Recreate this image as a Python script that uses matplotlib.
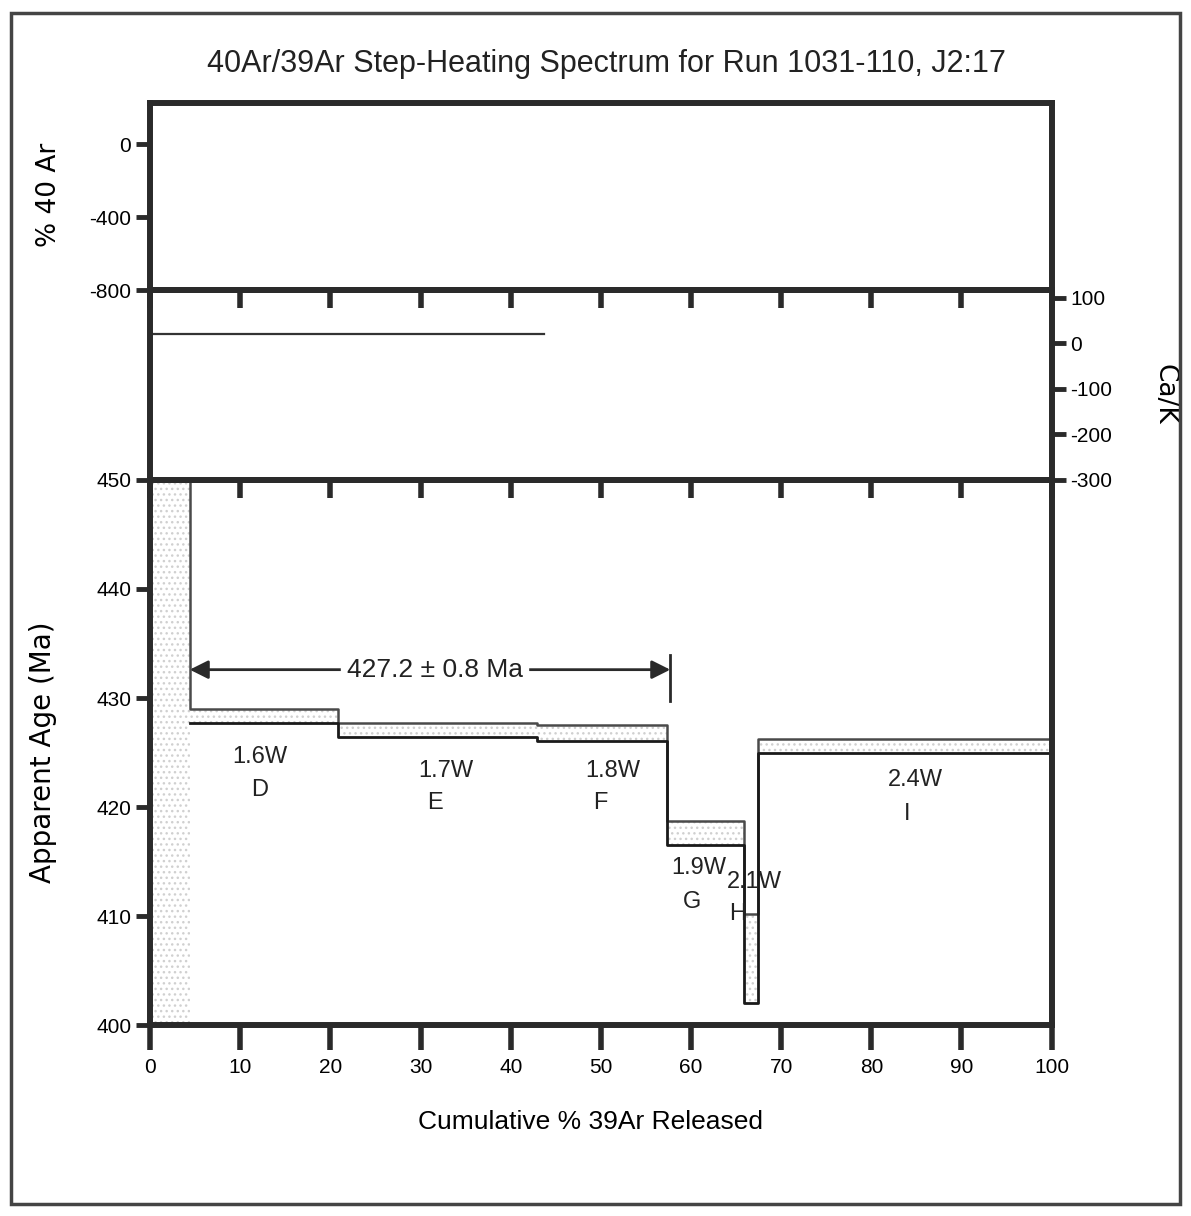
import numpy as np
import matplotlib
matplotlib.use("Agg")
import matplotlib.pyplot as plt
from matplotlib.patches import Rectangle

plt.rcParams['font.family'] = ['Liberation Sans', 'DejaVu Sans']

# step edges (cumulative % 39Ar) and age envelope (Ma)
step_edges = [0, 4.4, 20.8, 42.9, 57.3, 65.9, 67.4, 100]
age_hi = [475.0, 429.0, 427.7, 427.5, 418.7, 410.2, 426.2]
age_lo = [380.0, 427.7, 426.4, 426.1, 416.5, 402.0, 425.0]
step_names = ['D', 'E', 'F', 'G', 'H', 'I']
step_power = ['1.6W', '1.7W', '1.8W', '1.9W', '2.1W', '2.4W']

# Ca/K trace
cak_x = [0, 43.7]
cak_y = [20, 20]

plateau_age = 427.2
plateau_err = 0.8
plateau_range = [4.4, 57.7]

x_ticks = list(range(0, 101, 10))
age_ticks = [400, 410, 420, 430, 440, 450]
ar40_ticks = [0, -400, -800]
cak_ticks = [100, 0, -100, -200, -300]

fig = plt.figure(figsize=(11.91, 12.16), dpi=100)
L, W = 0.126, 0.757
ax_top = fig.add_axes([L, 0.7615, W, 0.1538])
ax_mid = fig.add_axes([L, 0.6053, W, 0.1562])
ax_age = fig.add_axes([L, 0.157, W, 0.4483])

spine_w = 4.3
tick_kw = dict(length=10, width=3.5, labelsize=15)

for ax in (ax_top, ax_mid, ax_age):
    ax.set_xlim(0, 100)
    for s in ax.spines.values():
        s.set_linewidth(spine_w)
        s.set_color('#2a2a2a')
    ax.set_facecolor('none')

# top panel: % 40Ar
ax_top.set_ylim(-800, 225)
ax_top.set_yticks(ar40_ticks)
ax_top.set_yticklabels([str(t) for t in ar40_ticks])
ax_top.tick_params(axis='y', direction='out', color='#2a2a2a', **tick_kw)
ax_top.tick_params(axis='x', bottom=False, labelbottom=False)
ax_top.set_ylabel('% 40 Ar', fontsize=19, family=['DejaVu Sans'])
ax_top.yaxis.set_label_coords(-0.098, 0.51)

# middle panel: Ca/K
ax_mid.set_ylim(-291, 117)
ax_mid.plot(cak_x, cak_y, color='#333333', lw=1.6)
ax_mid.yaxis.tick_right()
ax_mid.set_yticks(cak_ticks)
ax_mid.set_yticklabels([str(t) for t in cak_ticks])
ax_mid.tick_params(axis='y', direction='out', color='#2a2a2a', **tick_kw)
ax_mid.set_xticks(x_ticks)
ax_mid.tick_params(axis='x', bottom=False, labelbottom=False, top=True,
                   direction='in', length=13, width=4, color='#2a2a2a')
ax_mid.yaxis.set_label_position('right')
ax_mid.set_ylabel('Ca/K', fontsize=19, rotation=-90, family=['DejaVu Sans'])
ax_mid.yaxis.set_label_coords(1.14, 0.45)

# bottom panel: age spectrum
ax_age.set_ylim(400, 450)
xs = np.array(step_edges)
hi = np.array(age_hi + [age_hi[-1]])
lo = np.array(age_lo + [age_lo[-1]])
ax_age.fill_between(xs, lo, hi, step='post', facecolor='none',
                    edgecolor='#d0d0d0', hatch='...', lw=0)
ax_age.step(xs, hi, where='post', color='#4a4a4a', lw=1.8)
ax_age.step(xs[1:], lo[1:], where='post', color='#1a1a1a', lw=2.0)

# plateau arrow
y_arrow = 432.6
ax_age.annotate('', xy=(plateau_range[0], y_arrow), xytext=(plateau_range[1], y_arrow),
                arrowprops=dict(arrowstyle='<|-|>', color='#2a2a2a', lw=2,
                                mutation_scale=28, shrinkA=0, shrinkB=0))
ax_age.plot([plateau_range[1], plateau_range[1]], [429.7, 433.9], color='#2a2a2a', lw=2)
ax_age.text(np.mean(plateau_range) + 0.5, y_arrow,
            f'{plateau_age} \u00b1 {plateau_err} Ma', fontsize=19,
            ha='center', va='center', backgroundcolor='white', color='#222222')

# step labels
label_pos = [(12.2, 424.6, 12.2, 421.6), (32.8, 423.3, 31.6, 420.4),
             (51.3, 423.3, 49.9, 420.4), (60.9, 414.4, 60.1, 411.3),
             (67.0, 413.1, 65.2, 410.2), (84.9, 422.5, 84.0, 419.4)]
for (px, py, nx, ny), p, n in zip(label_pos, step_power, step_names):
    ax_age.text(px, py, p, fontsize=17, ha='center', va='center', color='#222222')
    ax_age.text(nx, ny, n, fontsize=17, ha='center', va='center', color='#222222')

ax_age.set_yticks(age_ticks)
ax_age.set_yticklabels([str(t) for t in age_ticks])
ax_age.tick_params(axis='y', direction='out', color='#2a2a2a', **tick_kw)
ax_age.set_xticks(x_ticks)
ax_age.set_xticklabels([str(t) for t in x_ticks])
ax_age.tick_params(axis='x', direction='out', length=18, width=4,
                   labelsize=15, pad=6, top=False, color='#2a2a2a')
ax_age.set_xlabel('Cumulative % 39Ar Released', fontsize=19, labelpad=22)
ax_age.xaxis.set_label_coords(0.488, -0.155)
ax_age.set_ylabel('Apparent Age (Ma)', fontsize=20, family=['DejaVu Sans'])
ax_age.yaxis.set_label_coords(-0.103, 0.5)

# inward ticks along the top edge of the age panel
ax_age_top = ax_age.secondary_xaxis('top')
ax_age_top.set_xticks(x_ticks)
ax_age_top.tick_params(direction='in', length=13, width=4, labeltop=False,
                       color='#2a2a2a')

fig.text(0.509, 0.947, '40Ar/39Ar Step-Heating Spectrum for Run 1031-110, J2:17',
         fontsize=22, ha='center', va='center', color='#222222')

fig.add_artist(Rectangle((0.009, 0.01), 0.982, 0.979, transform=fig.transFigure,
                         fill=False, lw=2.5, edgecolor='#444444'))

fig.savefig('out.png', dpi=100)
